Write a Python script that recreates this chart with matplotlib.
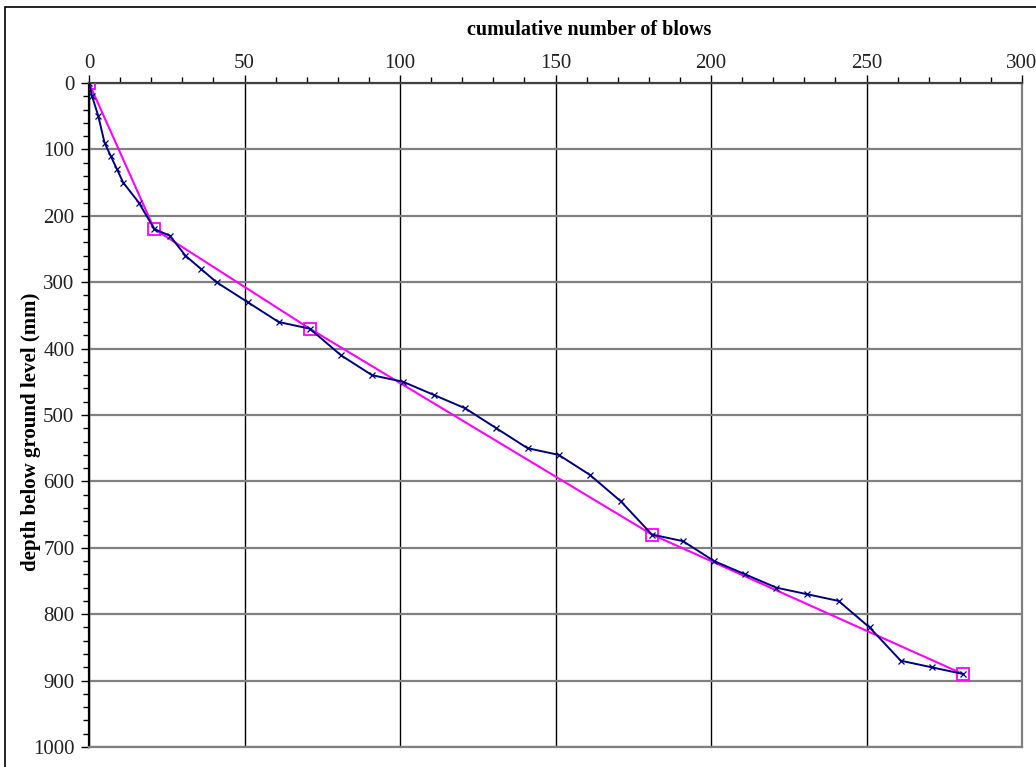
import matplotlib
matplotlib.use('Agg')
import matplotlib.pyplot as plt
from matplotlib.patches import Rectangle
from matplotlib.ticker import MultipleLocator

# penetration test record
blows = [0, 1, 3, 5, 7, 9, 11, 16, 21, 26, 31, 36, 41, 51, 61, 71, 81, 91, 101,
         111, 121, 131, 141, 151, 161, 171, 181, 191, 201, 211, 221, 231, 241,
         251, 261, 271, 281]
depth = [0, 20, 50, 90, 110, 130, 150, 180, 220, 230, 260, 280, 300, 330, 360,
         370, 410, 440, 450, 470, 490, 520, 550, 560, 590, 630, 680, 690, 720,
         740, 760, 770, 780, 820, 870, 880, 890]

# idealised layers
fit_blows = [0, 21, 71, 181, 281]
fit_depth = [0, 220, 370, 680, 890]

plt.rcParams['font.family'] = ['Liberation Serif', 'DejaVu Serif']

fig = plt.figure(figsize=(10.36, 7.67), dpi=100)
ax = fig.add_axes([89/1036, 1 - 747/767, (1022 - 89)/1036, (747 - 83)/767])

# outer frame of the chart area
fig.patches.append(Rectangle((5/1036, -0.05), 1.1, 1 - 7/767 + 0.05,
                             transform=fig.transFigure, fill=False,
                             edgecolor='black', linewidth=1.2))

ax.plot(fit_blows, fit_depth, color='#FF00FF', linewidth=1.5, marker='s',
        markersize=9, markerfacecolor='none', markeredgecolor='#FF00FF',
        markeredgewidth=1.3, zorder=3)
ax.plot(blows, depth, color='#000080', linewidth=1.4, marker='x',
        markersize=4, markeredgewidth=0.9, zorder=4)

ax.set_xlim(0, 300)
ax.set_ylim(1000, 0)
ax.xaxis.set_major_locator(MultipleLocator(50))
ax.xaxis.set_minor_locator(MultipleLocator(10))
ax.yaxis.set_major_locator(MultipleLocator(100))
ax.yaxis.set_minor_locator(MultipleLocator(20))
ax.xaxis.tick_top()
ax.xaxis.set_label_position('top')

ax.tick_params(axis='both', which='major', direction='out', length=5.5,
               width=1, labelsize=15, color='black', labelcolor='#222222')
ax.tick_params(axis='both', which='minor', direction='out', length=4.5,
               width=1, color='black')
ax.tick_params(axis='x', which='major', pad=1.5)
ax.tick_params(axis='y', which='major', pad=5)

ax.grid(axis='x', which='major', color='black', linewidth=1.0)
ax.grid(axis='y', which='major', color='#808080', linewidth=1.6)
ax.set_axisbelow(True)

ax.spines['top'].set_color('#404040')
ax.spines['left'].set_color('black')
ax.spines['right'].set_color('#808080')
ax.spines['bottom'].set_color('#808080')
for s in ax.spines.values():
    s.set_linewidth(1.6)

ax.set_xlabel('cumulative number of blows', fontsize=14.5, fontweight='bold')
ax.set_ylabel('depth below ground level (mm)', fontsize=15, fontweight='bold')
ax.xaxis.set_label_coords(0.536, 1 + 53/664, transform=ax.transAxes)
ax.yaxis.set_label_coords(-58/933, 0.474, transform=ax.transAxes)
ax.xaxis.label.set_va('center')
ax.yaxis.label.set_va('center')

fig.savefig('out.png', dpi=100)
